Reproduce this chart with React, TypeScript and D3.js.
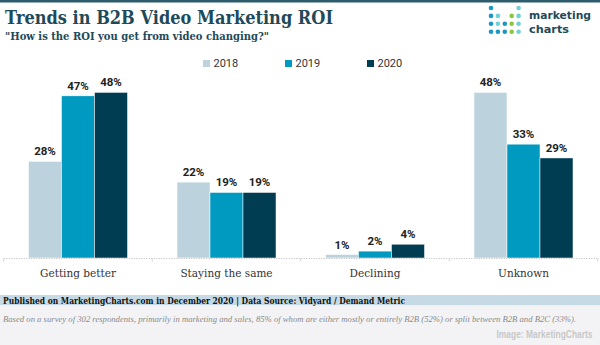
import React, { useLayoutEffect, useRef, useState } from "react";
import * as d3 from "d3";

const categories = ["Getting better", "Staying the same", "Declining", "Unknown"];
const years = ["2018", "2019", "2020"];
const values2018 = [28, 22, 1, 48];
const values2019 = [47, 19, 2, 33];
const values2020 = [48, 19, 4, 29];
const seriesValues = [values2018, values2019, values2020];
const colors = ["#bcd3de", "#0099c0", "#003d52"];

const title = "Trends in B2B Video Marketing ROI";
const subtitle = '"How is the ROI you get from video changing?"';
const footer = "Published on MarketingCharts.com in December 2020 | Data Source: Vidyard / Demand Metric";
const note = "Based on a survey of 302 respondents, primarily in marketing and sales, 85% of whom are either mostly or entirely B2B (52%) or split between B2B and B2C (33%).";
const credit = "Image: MarketingCharts";

// logo dot pattern: 0 none, 1 blue, 2 light teal, 3 green
const logoDots = [
  [1, 0, 0, 0, 2],
  [1, 2, 0, 3, 2],
  [1, 2, 1, 3, 2],
  [1, 1, 1, 3, 2],
];
const logoColors = ["none", "#1b97c4", "#6fd2d6", "#8dc63f"];

const W = 600;
const H = 345;

export default function App() {
  const creditRef = useRef<SVGTextElement>(null);
  const [creditScale, setCreditScale] = useState(0.7);
  useLayoutEffect(() => {
    if (creditRef.current) {
      const w = creditRef.current.getComputedTextLength();
      if (w > 0) setCreditScale(96 / w);
    }
  }, []);

  const x0 = d3.scaleBand<string>().domain(categories).range([3.75, 597.75]).paddingInner(1 / 3).paddingOuter(1 / 6);
  const x1 = d3.scaleBand<string>().domain(years).range([0, x0.bandwidth()]).padding(0);
  const y = d3.scaleLinear().domain([0, 50]).range([258, 85.5]);
  const serifFont = "'DejaVu Serif', serif";
  const sansFont = "Roboto, 'Open Sans', sans-serif";
  const boundaries = d3.range(categories.length + 1).map((i) => 3.75 + i * x0.step());

  const legendX = [203, 285, 367];

  return (
    <svg width={W} height={H} style={{ position: "absolute", left: 0, top: 0, background: "#fff" }}>
      <rect x={0} y={0} width={W} height={2.5} fill="#2d5c6c" />
      <text x={5} y={24} fontFamily={serifFont} fontWeight="bold" fontSize={18} fill="#1e4a5a" textLength={328} lengthAdjust="spacingAndGlyphs">
        {title}
      </text>
      <text x={5} y={39.5} fontFamily={serifFont} fontWeight="bold" fontSize={10.5} fill="#1e4a5a" textLength={264} lengthAdjust="spacingAndGlyphs">
        {subtitle}
      </text>

      {/* logo */}
      {logoDots.map((row, r) =>
        row.map((c, k) =>
          c ? <circle key={`d${r}-${k}`} cx={491 + k * 6.9} cy={8 + r * 7.9} r={2.3} fill={logoColors[c]} /> : null
        )
      )}
      <text x={529} y={19.3} fontFamily="'DejaVu Sans', sans-serif" fontWeight="bold" fontSize={11} fill="#1e4a5a" textLength={62} lengthAdjust="spacingAndGlyphs">marketing</text>
      <text x={529} y={32.5} fontFamily="'DejaVu Sans', sans-serif" fontWeight="bold" fontSize={11} fill="#1e4a5a" textLength={40} lengthAdjust="spacingAndGlyphs">charts</text>

      {/* legend */}
      {years.map((yr, i) => (
        <g key={yr}>
          <rect x={legendX[i]} y={60} width={7} height={7} fill={colors[i]} />
          <text x={legendX[i] + 10.5} y={67.3} fontFamily={sansFont} fontSize={11} fill="#333">{yr}</text>
        </g>
      ))}

      {/* bars */}
      {categories.map((cat, ci) => (
        <g key={cat} transform={`translate(${x0(cat)},0)`}>
          {years.map((yr, si) => {
            const v = seriesValues[si][ci];
            const bx = x1(yr) as number;
            return (
              <g key={yr}>
                <rect x={bx} y={y(v)} width={x1.bandwidth()} height={y(0) - y(v)} fill={colors[si]} stroke="#fff" strokeWidth={0.5} />
                <text x={bx + x1.bandwidth() / 2} y={y(v) - 6} textAnchor="middle" fontFamily={sansFont} fontWeight="bold" fontSize={11.5} fill="#222">
                  {v}%
                </text>
              </g>
            );
          })}
        </g>
      ))}

      {/* baseline */}
      <line x1={3.75} x2={597.75} y1={258.5} y2={258.5} stroke="#bbb" strokeWidth={1} strokeDasharray="1,1.5" />
      {boundaries.map((b, i) => (
        <line key={i} x1={b} x2={b} y1={258.5} y2={261.5} stroke="#ccc" strokeWidth={0.8} />
      ))}

      {categories.map((cat) => (
        <text key={cat} x={(x0(cat) as number) + x0.bandwidth() / 2} y={276.7} textAnchor="middle" fontFamily={serifFont} fontSize={10.5} fill="#333">
          {cat}
        </text>
      ))}

      {/* footer */}
      <rect x={0} y={295} width={W} height={10.5} fill="#c5dae4" />
      <rect x={0} y={305.5} width={W} height={H - 305.5} fill="#f3f3f5" />
      <text x={3} y={303.6} fontFamily={serifFont} fontWeight="bold" fontSize={10} fill="#111" textLength={402} lengthAdjust="spacingAndGlyphs">
        {footer}
      </text>
      <text x={3} y={322} fontFamily="'Liberation Serif', serif" fontStyle="italic" fontSize={7.5} fill="#8a8a8a" textLength={573} lengthAdjust="spacingAndGlyphs">
        {note}
      </text>
      <g transform={`translate(496.5,337.5) scale(${creditScale},1)`}>
        <text ref={creditRef} x={0} y={0} fontFamily="'Liberation Sans', sans-serif" fontWeight="bold" fontSize={10.5} fill="#c8c8c8">
          {credit}
        </text>
      </g>
    </svg>
  );
}
